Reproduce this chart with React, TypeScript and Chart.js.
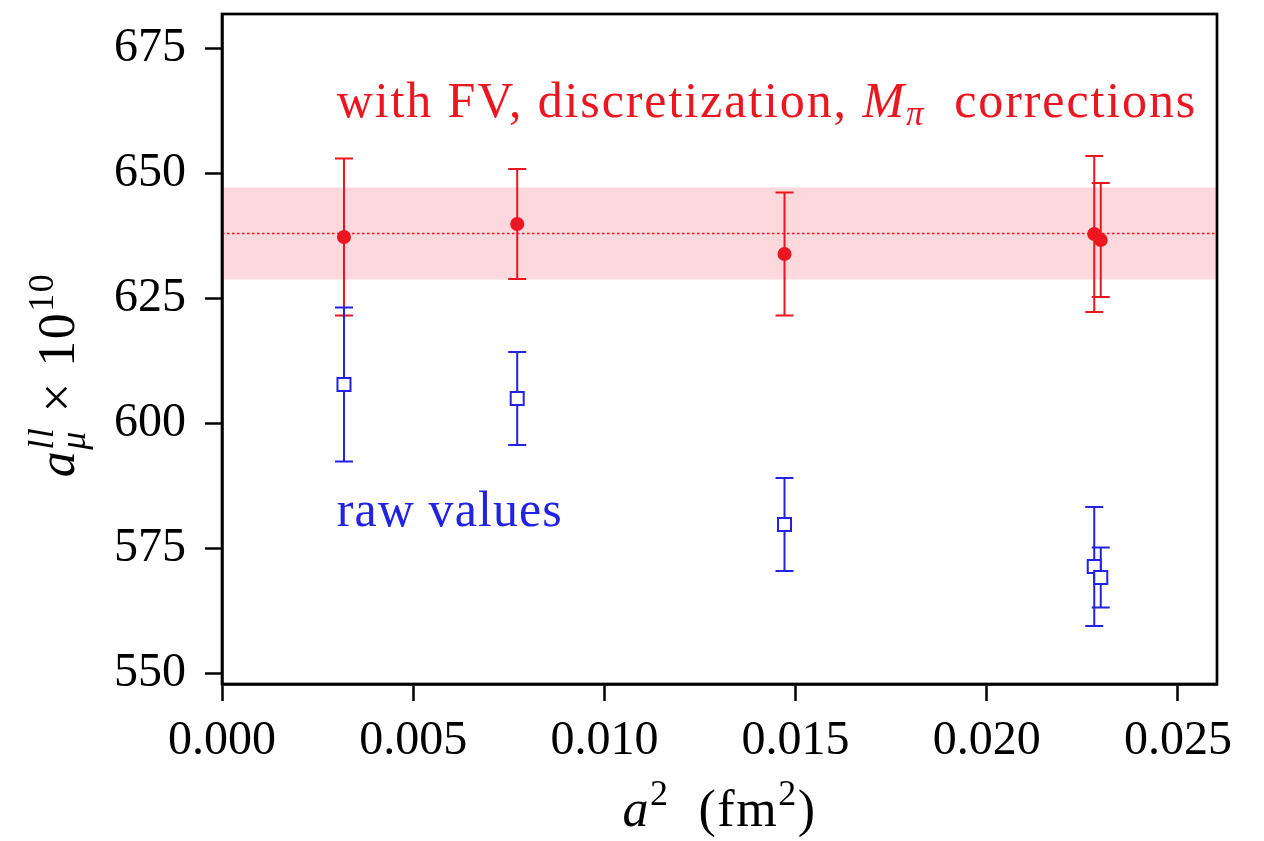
import { useEffect, useRef } from "react";
import { Chart, registerables } from "chart.js";

Chart.register(...registerables);

// Squared lattice spacing a^2 (fm^2) of each ensemble
const latticeSpacingSq = [0.00319, 0.00772, 0.01471, 0.02281, 0.02298];
// a_mu^{ll} x 10^10 after finite-volume, discretization and pion-mass corrections
const correctedValues = [637.3, 639.9, 633.9, 637.9, 636.7];
const correctedErrors = [15.7, 11.0, 12.3, 15.6, 11.4];
// uncorrected lattice values
const rawValues = [607.8, 605.0, 579.8, 571.4, 569.2];
const rawErrors = [15.4, 9.3, 9.3, 11.9, 6.0];
// weighted average band
const averageValue = 638.0;
const averageError = 9.2;

const xTicks = [0, 0.005, 0.01, 0.015, 0.02, 0.025];
const yTicks = [550, 575, 600, 625, 650, 675];
const xRange = [0, 0.02602];
const yRange = [547.9, 681.9];

const RED = "rgb(236, 22, 32)";
const BLUE = "rgb(34, 34, 226)";
const FONT = "'Liberation Serif', 'Times New Roman', serif";

type Run = { text: string; italic?: boolean; size: number; dy?: number; noAdvance?: boolean };

function runFont(r: Run) {
  return `${r.italic ? "italic " : ""}${r.size}px ${FONT}`;
}

function drawRuns(
  ctx: CanvasRenderingContext2D,
  runs: Run[],
  x: number,
  y: number,
  align: "left" | "center",
  spacing = 0
) {
  (ctx as any).letterSpacing = `${spacing}px`;
  let total = 0;
  let pending = 0;
  for (const r of runs) {
    ctx.font = runFont(r);
    const w = ctx.measureText(r.text).width;
    if (r.noAdvance) {
      pending = Math.max(pending, w);
    } else {
      total += Math.max(w, pending);
      pending = 0;
    }
  }
  total += pending;
  let cx = align === "center" ? x - total / 2 : x;
  pending = 0;
  ctx.textAlign = "left";
  ctx.textBaseline = "alphabetic";
  for (const r of runs) {
    ctx.font = runFont(r);
    const w = ctx.measureText(r.text).width;
    ctx.fillText(r.text, cx, y + (r.dy || 0));
    if (r.noAdvance) {
      pending = Math.max(pending, w);
    } else {
      cx += Math.max(w, pending);
      pending = 0;
    }
  }
  (ctx as any).letterSpacing = "0px";
}

const errorBars = {
  id: "errorBars",
  beforeDatasetsDraw(chart: any) {
    const { ctx, scales } = chart;
    const xs = scales.x;
    const ys = scales.y;
    const area = chart.chartArea;
    ctx.save();
    // averaged result band with its central value
    const bandTop = ys.getPixelForValue(averageValue + averageError);
    const bandBottom = ys.getPixelForValue(averageValue - averageError);
    ctx.fillStyle = "rgba(246, 40, 60, 0.18)";
    ctx.fillRect(area.left, bandTop, area.right - area.left, bandBottom - bandTop);
    const mid = ys.getPixelForValue(averageValue);
    ctx.strokeStyle = RED;
    ctx.lineWidth = 1.5;
    ctx.setLineDash([2.5, 2.5]);
    ctx.beginPath();
    ctx.moveTo(area.left, mid);
    ctx.lineTo(area.right, mid);
    ctx.stroke();
    ctx.setLineDash([]);

    const sets = [
      { values: correctedValues, errors: correctedErrors, color: RED },
      { values: rawValues, errors: rawErrors, color: BLUE },
    ];
    for (const s of sets) {
      ctx.strokeStyle = s.color;
      ctx.lineWidth = 2;
      latticeSpacingSq.forEach((xv, i) => {
        const px = xs.getPixelForValue(xv);
        const top = ys.getPixelForValue(s.values[i] + s.errors[i]);
        const bottom = ys.getPixelForValue(s.values[i] - s.errors[i]);
        ctx.beginPath();
        ctx.moveTo(px, top);
        ctx.lineTo(px, bottom);
        ctx.moveTo(px - 9, top);
        ctx.lineTo(px + 9, top);
        ctx.moveTo(px - 9, bottom);
        ctx.lineTo(px + 9, bottom);
        ctx.stroke();
      });
    }
    ctx.restore();
  },
  afterDatasetsDraw(chart: any) {
    const { ctx, scales } = chart;
    const xs = scales.x;
    const ys = scales.y;
    const area = chart.chartArea;
    ctx.save();
    // frame
    ctx.strokeStyle = "#000";
    ctx.lineWidth = 2.7;
    ctx.strokeRect(area.left, area.top, area.right - area.left, area.bottom - area.top);

    // annotations
    ctx.fillStyle = RED;
    drawRuns(
      ctx,
      [
        { text: "with FV, discretization, ", size: 50 },
        { text: "M", italic: true, size: 50 },
        { text: "π", italic: true, size: 35, dy: 8 },
        { text: "  corrections", size: 50 },
      ],
      xs.getPixelForValue(0.003),
      ys.getPixelForValue(661.3),
      "left",
      1.9
    );
    ctx.fillStyle = BLUE;
    drawRuns(
      ctx,
      [{ text: "raw values", size: 50 }],
      xs.getPixelForValue(0.003),
      ys.getPixelForValue(579.5),
      "left",
      1.1
    );

    // axis titles
    ctx.fillStyle = "#000";
    drawRuns(
      ctx,
      [
        { text: "a", italic: true, size: 52 },
        { text: "2", size: 36, dy: -21 },
        { text: "  (fm", size: 52 },
        { text: "2", size: 36, dy: -21 },
        { text: ")", size: 52 },
      ],
      (area.left + area.right) / 2,
      826,
      "center",
      1.5
    );
    ctx.translate(74, 375);
    ctx.rotate(-Math.PI / 2);
    drawRuns(
      ctx,
      [
        { text: "a", italic: true, size: 52 },
        { text: "ll", italic: true, size: 36, dy: -21, noAdvance: true },
        { text: "μ", italic: true, size: 36, dy: 11 },
        { text: " × 10", size: 52 },
        { text: "10", size: 36, dy: -21 },
      ],
      0,
      0,
      "center",
      1.5
    );
    ctx.restore();
  },
};

export default function App() {
  const canvasRef = useRef<HTMLCanvasElement | null>(null);

  useEffect(() => {
    const canvas = canvasRef.current;
    if (!canvas) return;
    const tickFont = { family: FONT, size: 48 };
    const chart = new Chart(canvas, {
      type: "scatter",
      data: {
        datasets: [
          {
            label: "corrected",
            data: latticeSpacingSq.map((x, i) => ({ x, y: correctedValues[i] })),
            pointStyle: "circle",
            pointRadius: 7,
            backgroundColor: RED,
            borderColor: RED,
            borderWidth: 0,
          },
          {
            label: "raw",
            data: latticeSpacingSq.map((x, i) => ({ x, y: rawValues[i] })),
            pointStyle: "rect",
            pointRadius: 9.2,
            backgroundColor: "#ffffff",
            borderColor: BLUE,
            borderWidth: 2,
          },
        ],
      },
      options: {
        responsive: false,
        animation: false,
        devicePixelRatio: 1,
        layout: { padding: { left: 0, top: 14, right: 47, bottom: 0 } },
        plugins: { legend: { display: false }, tooltip: { enabled: false } },
        scales: {
          x: {
            type: "linear",
            min: xRange[0],
            max: xRange[1],
            afterBuildTicks: (s: any) => {
              s.ticks = xTicks.map((v) => ({ value: v }));
            },
            afterFit: (s: any) => {
              s.height = 157;
              s.paddingLeft = 0;
              s.paddingRight = 0;
            },
            ticks: {
              callback: (v: any) => Number(v).toFixed(3),
              font: tickFont,
              color: "#000",
              padding: 12,
              maxRotation: 0,
              autoSkip: false,
            },
            grid: { drawOnChartArea: false, tickLength: 17, tickWidth: 2.5, tickColor: "#000" },
            border: { color: "#000", width: 2.7 },
          },
          y: {
            type: "linear",
            min: yRange[0],
            max: yRange[1],
            afterBuildTicks: (s: any) => {
              s.ticks = yTicks.map((v) => ({ value: v }));
            },
            afterFit: (s: any) => {
              s.width = 222;
              s.paddingTop = 0;
              s.paddingBottom = 0;
            },
            ticks: {
              callback: (v: any) => String(v),
              font: tickFont,
              color: "#000",
              padding: 19,
              autoSkip: false,
            },
            grid: { drawOnChartArea: false, tickLength: 17, tickWidth: 2.5, tickColor: "#000" },
            border: { color: "#000", width: 2.7 },
          },
        },
      },
      plugins: [errorBars],
    } as any);
    return () => chart.destroy();
  }, []);

  return (
    <div style={{ position: "fixed", left: 0, top: 0, width: 1264, height: 841, background: "#fff" }}>
      <canvas ref={canvasRef} width={1264} height={841} />
    </div>
  );
}
